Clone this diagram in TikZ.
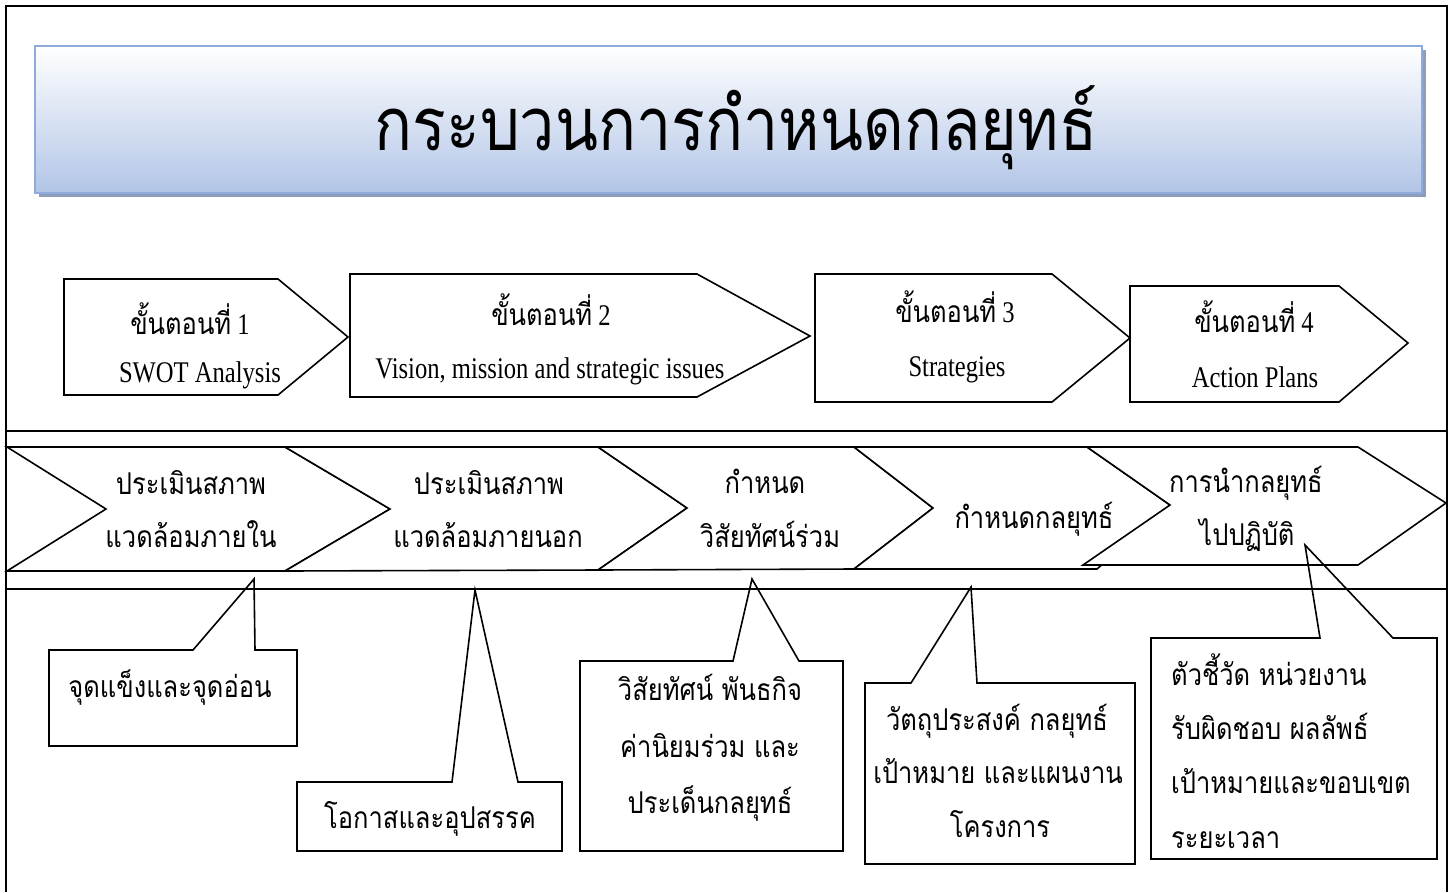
\documentclass[tikz,border=0pt]{standalone}
\usepackage{fontspec}
\setmainfont{Liberation Serif}[FakeStretch=0.82]
\newfontfamily\thai{Loma}[Script=Thai,FakeStretch=0.85]
\definecolor{tborder}{RGB}{143,170,220}
\definecolor{tbottom}{RGB}{178,197,231}
\definecolor{tshadow}{RGB}{140,158,184}
\tikzset{
  frameline/.style={line width=2pt, black},
  shapeline/.style={line width=1.6pt, black, line join=miter},
  th/.style={font=\thai\fontsize{30}{36}\selectfont, inner sep=0pt, anchor=base},
  la/.style={font=\fontsize{30}{36}\selectfont, inner sep=0pt, anchor=base},
  thl/.style={th, anchor=base west},
}
\begin{document}
\begin{tikzpicture}[x=1pt,y=-1pt]
\useasboundingbox (0,0) rectangle (1454,892);
% outer frame
\draw[frameline] (6,892) -- (6,6) -- (1447,6) -- (1447,892);
% title banner
\fill[tshadow] (39,50) rectangle (1426,197);
\draw[tborder, line width=2.5pt, top color=white, bottom color=tbottom] (35,46) rectangle (1422,193);
\node[font=\thai\fontsize{74}{90}\selectfont, inner sep=0pt, anchor=base] (title) at (736,150) {กระบวนการกำหนดกลยุทธ์};
% steps
\draw[shapeline] (64,279) -- (278,279) -- (348,337) -- (278,395) -- (64,395) -- cycle;
\draw[shapeline] (350,274) -- (697,274) -- (810,336) -- (697,397) -- (350,397) -- cycle;
\draw[shapeline] (815,274) -- (1052,274) -- (1130,338) -- (1052,402) -- (815,402) -- cycle;
\draw[shapeline] (1130,286) -- (1339,286) -- (1408,343) -- (1339,402) -- (1130,402) -- cycle;
\node[la] (s1a) at (190,334) {{\thai ขั้นตอนที่} 1};
\node[la] (s1b) at (200,382) {SWOT Analysis};
\node[la] (s2a) at (551,325) {{\thai ขั้นตอนที่} 2};
\node[la] (s2b) at (550,378) {Vision, mission and strategic issues};
\node[la] (s3a) at (955,322) {{\thai ขั้นตอนที่} 3};
\node[la] (s3b) at (957,376) {Strategies};
\node[la] (s4a) at (1254,332) {{\thai ขั้นตอนที่} 4};
\node[la] (s4b) at (1255,387) {Action Plans};
% divider lines
\draw[frameline] (6,431) -- (1447,431);
\draw[frameline] (6,589) -- (1447,589);
% chevrons
\draw[shapeline, fill=white] (7,447) -- (285,447) -- (390,509) -- (285,571) -- (7,571) -- (106,509) -- cycle;
\draw[shapeline, fill=white] (285,447) -- (598,447) -- (687,508) -- (598,570) -- (285,571) -- (390,509) -- cycle;
\draw[shapeline, fill=white] (598,447) -- (854,447) -- (933,508) -- (854,569) -- (598,570) -- (687,508) -- cycle;
\draw[shapeline, fill=white] (854,447) -- (1087,447) -- (1170,505) -- (1097,569) -- (854,569) -- (933,508) -- cycle;
\draw[shapeline, fill=white] (1087,447) -- (1358,447) -- (1446,503) -- (1358,565) -- (1083,565) -- (1170,505) -- cycle;
\node[th] (c1a) at (191,494) {ประเมินสภาพ};
\node[th] (c1b) at (191,547) {แวดล้อมภายใน};
\node[th] (c2a) at (489,494) {ประเมินสภาพ};
\node[th] (c2b) at (488,547) {แวดล้อมภายนอก};
\node[th] (c3a) at (765,493) {กำหนด};
\node[th] (c3b) at (770,547) {วิสัยทัศน์ร่วม};
\node[th] (c4a) at (1034,528) {กำหนดกลยุทธ์};
\node[th] (c5a) at (1246,492) {การนำกลยุทธ์};
\node[th] (c5b) at (1247,545) {ไปปฏิบัติ};
% callouts
\draw[shapeline] (49,650) -- (193,650) -- (254,579) -- (255,650) -- (297,650) -- (297,746) -- (49,746) -- cycle;
\draw[shapeline] (297,782) -- (452,782) -- (475,590) -- (518,782) -- (562,782) -- (562,851) -- (297,851) -- cycle;
\draw[shapeline] (580,661) -- (733,661) -- (752,579) -- (799,661) -- (843,661) -- (843,851) -- (580,851) -- cycle;
\draw[shapeline] (865,683) -- (911,683) -- (971,587) -- (977,683) -- (1135,683) -- (1135,864) -- (865,864) -- cycle;
\draw[shapeline] (1151,638) -- (1320,638) -- (1305,545) -- (1393,638) -- (1437,638) -- (1437,859) -- (1151,859) -- cycle;
\node[th] (k1) at (170,697) {จุดแข็งและจุดอ่อน};
\node[th] (k2) at (430,828) {โอกาสและอุปสรรค};
\node[th] (k3a) at (710,700) {วิสัยทัศน์ พันธกิจ};
\node[th] (k3b) at (710,757) {ค่านิยมร่วม และ};
\node[th] (k3c) at (710,813) {ประเด็นกลยุทธ์};
\node[th] (k4a) at (997,730) {วัตถุประสงค์ กลยุทธ์};
\node[th] (k4b) at (998,783) {เป้าหมาย และแผนงาน};
\node[th] (k4c) at (1000,837) {โครงการ};
\node[thl] (k5a) at (1171,685) {ตัวชี้วัด หน่วยงาน};
\node[thl] (k5b) at (1171,739) {รับผิดชอบ ผลลัพธ์};
\node[thl] (k5c) at (1171,793) {เป้าหมายและขอบเขต};
\node[thl] (k5d) at (1171,848) {ระยะเวลา};
\end{tikzpicture}
\end{document}
